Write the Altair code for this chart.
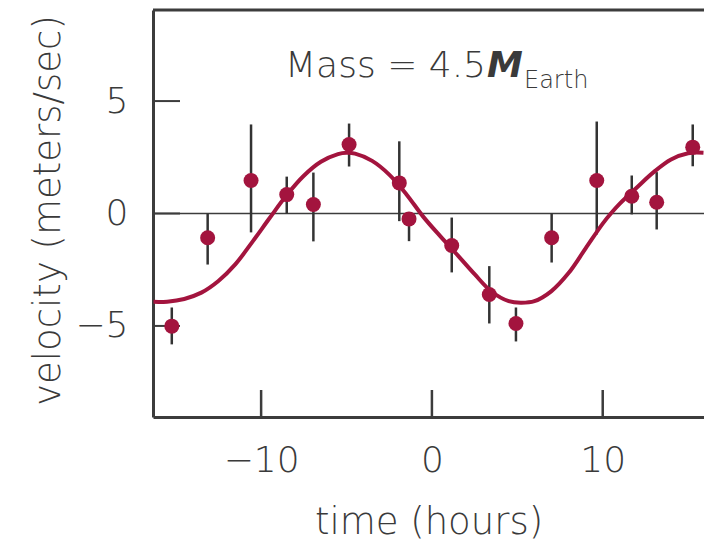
import altair as alt
import pandas as pd

# ---- data ----
time_h = [-15.23, -13.13, -10.59, -8.50, -6.94, -4.85, -1.91, -1.34, 1.16, 3.36, 4.92, 7.01, 9.65, 11.70, 13.16, 15.27]
velocity = [-5.01, -1.08, 1.47, 0.84, 0.40, 3.07, 1.36, -0.24, -1.42, -3.60, -4.89, -1.08, 1.47, 0.77, 0.50, 2.95]
err_lo = [-5.82, -2.27, -0.84, 0.0, -1.24, 2.09, -0.34, -1.23, -2.62, -4.89, -5.69, -2.18, -0.93, -0.04, -0.71, 2.10]
err_hi = [-4.18, 0.0, 3.96, 1.64, 1.82, 4.0, 3.21, 0.0, -0.18, -2.34, -4.18, 0.0, 4.09, 1.69, 1.84, 3.96]

curve_t = [-16.3, -15.5, -14.5, -13.5, -12.5, -11.5, -10.5, -9.5, -8.5, -7.5, -6.5, -5.5, -5.0, -4.5,
           -3.5, -2.5, -1.5, -0.5, 0.5, 1.5, 2.5, 3.5, 4.5, 5.2, 6.0, 7.0, 8.0, 9.0, 10.0, 10.5,
           11.0, 12.0, 13.0, 14.0, 15.0, 15.9]
curve_v = [-3.93, -3.92, -3.80, -3.52, -3.00, -2.25, -1.25, -0.20, 0.82, 1.68, 2.30, 2.64, 2.70, 2.66,
           2.34, 1.73, 0.86, -0.15, -1.02, -1.85, -2.70, -3.48, -3.90, -3.97, -3.90, -3.45, -2.65, -1.55, -0.45, 0.02,
           0.44, 1.16, 1.85, 2.40, 2.68, 2.70]

x_ticks = [-10, 0, 10]
y_ticks = [-5, 0, 5]

X_DOMAIN = [-16.33, 15.93]
Y_DOMAIN = [-9.05, 9.05]
W, H = 551, 407
FONT = "DejaVu Sans"
TEXT_COLOR = "#3a3a3a"
AXIS_COLOR = "#3c3c3c"
RED = "#a3143e"

pts = pd.DataFrame({"t": time_h, "v": velocity, "lo": err_lo, "hi": err_hi})
curve = pd.DataFrame({"t": curve_t, "v": curve_v})
xt = pd.DataFrame({"t": x_ticks})
yt = pd.DataFrame({"v": y_ticks})
one = pd.DataFrame({"a": [0]})

xs = alt.Scale(domain=X_DOMAIN, nice=False, zero=False)
ys = alt.Scale(domain=Y_DOMAIN, nice=False, zero=False)

x_axis = alt.Axis(values=x_ticks, title="time (hours)", ticks=False, tickSize=0, grid=False,
                  labelPadding=26, labelFontSize=36, labelFont=FONT, labelFontWeight=300, labelColor=TEXT_COLOR,
                  titleFont=FONT, titleFontSize=37, titleFontWeight=300, titleColor=TEXT_COLOR,
                  titleBaseline="alphabetic", titleY=116,
                  domainColor=AXIS_COLOR, domainWidth=3)
y_axis = alt.Axis(values=y_ticks, title="velocity (meters/sec)", ticks=False, tickSize=0, grid=False,
                  labelPadding=25, labelFontSize=36, labelFont=FONT, labelFontWeight=300, labelColor=TEXT_COLOR,
                  titleFont=FONT, titleFontSize=37, titleFontWeight=300, titleColor=TEXT_COLOR,
                  titleAngle=270, titleBaseline="alphabetic", titleAlign="center", titleX=-94, titleY=200,
                  domainColor=AXIS_COLOR, domainWidth=3)

zero_line = alt.Chart(one).mark_rule(color=AXIS_COLOR, strokeWidth=1.6).encode(
    y=alt.datum(0, scale=ys, axis=y_axis), x=alt.value(0), x2=alt.value(W))

top_border = alt.Chart(one).mark_rule(color=AXIS_COLOR, strokeWidth=3).encode(
    y=alt.value(0), x=alt.value(0), x2=alt.value(W))

xtick_marks = alt.Chart(xt).mark_rule(color=AXIS_COLOR, strokeWidth=2.5).encode(
    x=alt.X("t:Q", scale=xs, axis=x_axis), y=alt.value(H), y2=alt.value(H - 27))

ytick_marks = alt.Chart(yt).mark_rule(color=AXIS_COLOR, strokeWidth=2).encode(
    y=alt.Y("v:Q", scale=ys), x=alt.value(0), x2=alt.value(27))

errbars = alt.Chart(pts).mark_rule(color="#333333", strokeWidth=2.5).encode(
    x=alt.X("t:Q", scale=xs), y=alt.Y("lo:Q", scale=ys), y2="hi:Q")

fit = alt.Chart(curve).mark_line(color=RED, strokeWidth=4, interpolate="catmull-rom", clip=True).encode(
    x=alt.X("t:Q", scale=xs), y=alt.Y("v:Q", scale=ys))

dots = alt.Chart(pts).mark_point(filled=True, color=RED, size=225, opacity=1, shape="circle").encode(
    x=alt.X("t:Q", scale=xs), y=alt.Y("v:Q", scale=ys))

label_main = alt.Chart(one).mark_text(text="Mass = 4.5", font=FONT, fontSize=36, fontWeight=300, color=TEXT_COLOR,
                                      align="right", baseline="alphabetic").encode(
    x=alt.value(333), y=alt.value(67))
label_m = alt.Chart(one).mark_text(text="M", font=FONT, fontSize=36, fontStyle="italic", fontWeight="bold",
                                   color="#3a3a3a", align="left", baseline="alphabetic").encode(
    x=alt.value(334), y=alt.value(67))
label_sub = alt.Chart(one).mark_text(text="Earth", font=FONT, fontSize=24, fontWeight=300, color=TEXT_COLOR,
                                     align="left", baseline="alphabetic").encode(
    x=alt.value(371), y=alt.value(78))

chart = alt.layer(
    zero_line, top_border, xtick_marks, ytick_marks, errbars, fit, dots, label_main, label_m, label_sub
).properties(
    width=W, height=H,
    padding={"left": 153, "top": 10, "right": 0, "bottom": 125},
    autosize=alt.AutoSizeParams(type="none"),
).configure_view(stroke=None).configure(background="white")

chart.save("out.html", embed_options={"renderer": "svg", "actions": False})
